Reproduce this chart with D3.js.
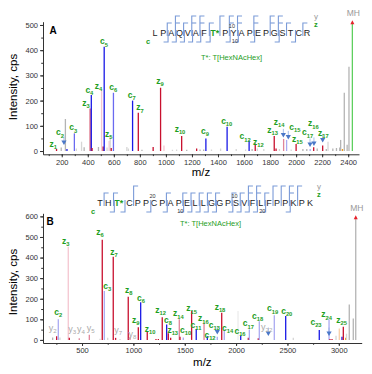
<!DOCTYPE html>
<html>
<head>
<meta charset="utf-8">
<script src="https://cdn.jsdelivr.net/npm/d3@7"></script>
<style>
  body { margin: 0; background: #fff; }
  text { font-family: Arial, 'Liberation Sans', sans-serif; }
</style>
</head>
<body>
<div id="chart-area"></div>
<script>
// ---- Panel A data: [m/z, intensity, kind]
const peaksA = [
  [160, 8, 'z'], [196, 14, 'g'], [228, 127, 'g'], [240, 8, 'c'], [297, 70, 'cm'],
  [312, 10, 'gl'], [352, 37, 'gl'], [372, 15, 'g'], [418, 169, 'zm'], [427, 222, 'c'],
  [433, 12, 'z'], [482, 16, 'g'], [506, 242, 'zp'], [518, 18, 'z'], [526, 414, 'c'],
  [548, 14, 'gl'], [564, 40, 'zp'], [572, 62, 'gl'], [580, 12, 'z'], [597, 231, 'cm'],
  [700, 16, 'gl'], [712, 10, 'gl'], [744, 200, 'c'], [788, 152, 'z'], [816, 5, 'g'],
  [902, 16, 'z'], [959, 251, 'z'], [985, 22, 'zp'], [1050, 5, 'gl'], [1082, 6, 'gl'],
  [1121, 60, 'z'], [1160, 5, 'g'], [1236, 10, 'z'], [1262, 6, 'g'], [1290, 6, 'g'],
  [1307, 50, 'c'], [1350, 6, 'gl'], [1420, 10, 'gl'], [1470, 96, 'c'], [1540, 8, 'gl'],
  [1612, 6, 'gl'], [1639, 41, 'c'], [1662, 8, 'g'], [1686, 30, 'z'], [1702, 10, 'gl'],
  [1752, 8, 'gl'], [1832, 60, 'z'], [1846, 10, 'z'], [1872, 8, 'gl'], [1904, 48, 'zl'],
  [1927, 44, 'cl'], [1962, 6, 'gl'], [2000, 28, 'z'], [2052, 8, 'g'], [2082, 8, 'g'],
  [2108, 8, 'cl'], [2135, 15, 'z'], [2162, 10, 'g'], [2204, 22, 'z'], [2232, 8, 'g'],
  [2245, 37, 'gl'], [2282, 10, 'g'], [2310, 12, 'g'], [2335, 14, 'g'], [2342, 44, 'g'],
  [2356, 8, 'o'], [2370, 231, 'g'], [2392, 25, 'g'], [2406, 334, 'g'], [2432, 511, 'mh']
];
// [ion, number, m/z, intensity] of label centre
const labelsA = [
  ['z', '1', 135, 24], ['c', '2', 187, 70], ['c', '3', 289, 90], ['z', '3', 386, 187],
  ['c', '4', 412, 239], ['z', '4', 483, 253], ['c', '5', 525, 431], ['z', '5', 560, 63],
  ['c', '6', 596, 249], ['c', '7', 737, 218], ['z', '7', 801, 169], ['z', '9', 955, 275],
  ['z', '10', 1108, 83], ['c', '9', 1300, 77], ['c', '10', 1467, 114], ['c', '12', 1608, 54],
  ['z', '12', 1710, 33], ['z', '13', 1820, 81], ['z', '14', 1869, 110], ['c', '15', 1991, 92],
  ['z', '15', 2009, 44], ['c', '17', 2089, 70], ['z', '16', 2132, 106], ['z', '17', 2209, 67]
];
const arrowsA = [[217, 30], [1902, 60], [1940, 52], [2107, 22], [2137, 26], [2204, 40]];
const seqA = ['L', 'P', 'A', 'Q', 'V', 'A', 'F', 'T*', 'P', 'Y', 'A', 'P', 'E', 'P', 'G', 'S', 'T', 'C', 'R'];
const cIonsA = [2, 3, 4, 5, 6, 7, 9, 10, 12, 15, 17];
const zIonsA = [1, 3, 4, 5, 7, 9, 10, 12, 13, 14, 15, 16, 17];
const yIonsA = [4, 5, 7, 9, 10, 11, 13, 14, 16];

// ---- Panel B data
const peaksB = [
  [214, 12, 'g'], [253, 18, 'z'], [269, 100, 'cl'], [285, 12, 'gl'], [366, 452, 'zp'],
  [376, 10, 'z'], [473, 8, 'zl'], [571, 25, 'zl'], [675, 6, 'gl'], [697, 487, 'z'],
  [717, 237, 'cl'], [750, 10, 'gl'], [804, 404, 'z'], [827, 10, 'z'], [870, 5, 'gl'],
  [950, 210, 'z'], [967, 15, 'zl'], [1048, 62, 'z'], [1071, 183, 'c'], [1135, 38, 'z'],
  [1220, 5, 'z'], [1243, 5, 'z'], [1281, 110, 'z'], [1324, 75, 'c'], [1340, 32, 'z'],
  [1363, 10, 'z'], [1447, 100, 'zl'], [1454, 15, 'z'], [1486, 12, 'cl'], [1567, 140, 'z'],
  [1612, 53, 'c'], [1688, 83, 'zl'], [1720, 18, 'c'], [1817, 15, 'cl'], [1860, 132, 'z'],
  [1885, 51, 'cl'], [2019, 140, 'gf'], [2045, 22, 'c'], [2119, 10, 'z'], [2129, 51, 'cl'],
  [2216, 8, 'z'], [2226, 91, 'cl'], [2372, 120, 'cl'], [2483, 116, 'c'], [2557, 10, 'gl'],
  [2810, 48, 'c'], [2905, 100, 'cl'], [2914, 5, 'z'], [2934, 5, 'z'], [2973, 20, 'gl'],
  [3005, 55, 'op'], [3031, 15, 'c'], [3044, 64, 'z'], [3067, 10, 'o'], [3075, 30, 'gl'],
  [3102, 172, 'g'], [3141, 104, 'g'], [3165, 596, 'g']
];
const labelsB = [
  ['c', '2', 269, 132], ['z', '3', 341, 475], ['z', '6', 675, 520], ['z', '7', 811, 423],
  ['c', '3', 746, 256], ['z', '8', 954, 237], ['c', '6', 1074, 201], ['z', '9', 1022, 91],
  ['z', '10', 1162, 48], ['z', '12', 1266, 140], ['c', '8', 1336, 93], ['z', '13', 1383, 42],
  ['z', '14', 1437, 124], ['c', '10', 1509, 43], ['z', '15', 1567, 148], ['c', '11', 1610, 70],
  ['z', '16', 1681, 100], ['c', '12', 1746, 18], ['c', '13', 1788, 70], ['z', '18', 1843, 156],
  ['c', '14', 1918, 54], ['c', '16', 2038, 38], ['c', '17', 2119, 75], ['c', '18', 2210, 111],
  ['c', '19', 2356, 148], ['c', '20', 2493, 135], ['c', '23', 2778, 83], ['z', '24', 2882, 119],
  ['z', '25', 3028, 91]
];
const yLabelsB = [
  ['y', '2', 214, 54], ['y', '3', 405, 48], ['y', '4', 490, 48], ['y', '5', 584, 54],
  ['y', '7', 853, 43], ['y', '8', 990, 23], ['y', '22', 2298, 59]
];
const arrowsB = [[1817, 33], [2314, 26], [2905, 26]];
const seqB = ['T', 'H', 'T*', 'C', 'P', 'P', 'C', 'P', 'A', 'P', 'E', 'L', 'L', 'G', 'G', 'P', 'S', 'V', 'F', 'L', 'F', 'P', 'P', 'K', 'P', 'K'];
const cIonsB = [2, 3, 6, 8, 10, 11, 12, 13, 14, 16, 17, 18, 19, 20, 23];
const zIonsB = [3, 6, 7, 8, 9, 10, 12, 13, 14, 15, 16, 18, 24, 25];
const yIonsB = [2, 3, 4, 5, 7, 8, 22];

const colors = {
  c: '#1a1ae6', cm: '#6a6af0', cl: '#aaaaf2',
  z: '#c8102e', zm: '#d4506a', zl: '#e0849a', zp: '#f5c6d0',
  g: '#b4b4b4', gl: '#d6d6d6', gf: '#ececec',
  o: '#f39c12', op: '#f7cfa8', mh: '#5fcf5f'
};
const green = '#1e9e1e';
const markBlue = '#7b9bd8';

let svg = d3.select('#chart-area').append('svg')
  .attr('width', 372).attr('height', 374);

function drawPanel(p) {
  let x = d3.scaleLinear().domain(p.xDomain).range(p.xRange);
  let y = d3.scaleLinear().domain(p.yDomain).range(p.yRange);
  let g = svg.append('g');

  // axes
  g.append('g').attr('transform', `translate(0,${p.yRange[0]})`)
    .call(d3.axisBottom(x).tickValues(p.xTicks).tickFormat(d3.format('d'))
      .tickSize(3).tickSizeOuter(0).tickPadding(2));
  g.append('g').attr('transform', `translate(0,${p.yRange[0]})`)
    .call(d3.axisBottom(x).tickValues(p.xMinor).tickSize(1.8).tickSizeOuter(0).tickFormat(''))
    .select('.domain').remove();
  g.append('g').attr('transform', `translate(${p.xRange[0]},0)`)
    .call(d3.axisLeft(y).tickValues(p.yTicks).tickFormat(d3.format('d'))
      .tickSize(3).tickSizeOuter(0).tickPadding(2));
  g.append('g').attr('transform', `translate(${p.xRange[0]},0)`)
    .call(d3.axisLeft(y).tickValues(p.yMinor).tickSize(1.8).tickSizeOuter(0).tickFormat(''))
    .select('.domain').remove();
  g.selectAll('.domain, .tick line').attr('stroke', '#333');
  g.selectAll('.tick text').attr('font-size', 7.5).attr('fill', '#333')
    .style('font-family', "Arial, 'Liberation Sans', sans-serif");

  // peaks
  g.selectAll('.peak').data(p.peaks).enter().append('line')
    .attr('x1', d => x(d[0])).attr('x2', d => x(d[0]))
    .attr('y1', y(0)).attr('y2', d => y(d[1]))
    .attr('stroke', d => colors[d[2]]).attr('stroke-width', 1.3);

  // precursor tip
  let mh = p.peaks[p.peaks.length - 1];
  g.append('path')
    .attr('d', `M${x(mh[0]) - 2},${y(mh[1]) + 2}L${x(mh[0]) + 2},${y(mh[1]) + 2}L${x(mh[0])},${y(mh[1]) - 2}Z`)
    .attr('fill', '#e8202a');
  g.append('text').attr('x', x(mh[0]) + 1).attr('y', y(mh[1]) - 6)
    .attr('text-anchor', 'middle').attr('font-size', 8.5).attr('fill', '#999').text('MH');

  // arrows
  p.arrows.forEach(a => {
    let ax = x(a[0]), ay = y(a[1]);
    g.append('line').attr('x1', ax).attr('x2', ax).attr('y1', ay - 7).attr('y2', ay - 2)
      .attr('stroke', '#8fb0e6').attr('stroke-width', 0.8);
    g.append('path').attr('d', `M${ax - 2.6},${ay - 3}L${ax + 2.6},${ay - 3}L${ax},${ay + 1.5}Z`)
      .attr('fill', '#4b78c8');
  });

  // fragment labels
  function addLabel(d, fill, bold, size) {
    let t = g.append('text').attr('x', x(d[2])).attr('y', y(d[3]) + 2)
      .attr('text-anchor', 'middle').attr('fill', fill)
      .attr('font-weight', bold ? 'bold' : 'normal').attr('font-size', size);
    t.append('tspan').text(d[0]);
    t.append('tspan').attr('dy', 2.2).attr('font-size', size * 0.68).text(d[1]);
  }
  p.labels.forEach(d => addLabel(d, green, true, 8.5));
  (p.yLabels || []).forEach(d => addLabel(d, '#aaa', false, 9));

  // titles
  g.append('text').attr('x', p.tag[0]).attr('y', p.tag[1]).attr('text-anchor', 'middle')
    .attr('font-size', 10).attr('font-weight', 'bold').text(p.name);
  g.append('text').attr('transform', `translate(17,${p.yTitle}) rotate(-90)`)
    .attr('text-anchor', 'middle').attr('font-size', 11.5).text('Intensity, cps');
  g.append('text').attr('x', (p.xRange[0] + p.xRange[1]) / 2).attr('y', p.xTitle)
    .attr('text-anchor', 'middle').attr('font-size', 11.5).text('m/z');

  // sequence with cleavage marks
  let s = p.seq;
  let tIdx = s.indexOf('T*');
  let cx = i => p.seqX + i * p.step + (i > tIdx ? p.step * 0.6 : 0) + (i === tIdx ? p.step * 0.3 : 0);
  let ly = p.seqY;
  s.forEach((r, i) => {
    g.append('text').attr('x', cx(i)).attr('y', ly + 3.4).attr('text-anchor', 'middle')
      .attr('font-size', 9).attr('fill', r === 'T*' ? green : '#222')
      .attr('font-weight', r === 'T*' ? 'bold' : 'normal').text(r);
  });
  let n = s.length;
  let bx = k => (cx(k - 1) + cx(k)) / 2;  // boundary after residue k
  let marks = g.append('g').attr('fill', 'none').attr('stroke', markBlue).attr('stroke-width', 1.1);
  for (let k = 1; k < n; k++) {
    let hasY = p.yIons.includes(n - k), hasZ = p.zIons.includes(n - k);
    if (hasY || hasZ) {
      let top = hasY ? ly - 17 : ly - 10;
      marks.append('path').attr('d', `M${bx(k)},${ly + 3}V${top}h4.5`);
      if (hasY && hasZ) marks.append('path').attr('d', `M${bx(k)},${ly - 10}h4.5`);
    }
    if (p.cIons.includes(k)) {
      marks.append('path').attr('d', `M${bx(k) + 0.8},${ly - 3}V${ly + 9}h-4.5`);
    }
  }
  p.numbers.forEach(d => {
    g.append('text').attr('x', cx(d[0]) + (d[2] ? -1.5 : 1.5)).attr('y', d[2] ? ly - 5.5 : ly + 9.5)
      .attr('text-anchor', 'middle').attr('font-size', 5.5).attr('fill', '#333').text(d[1]);
  });
  g.append('text').attr('x', p.seqX - 7).attr('y', ly + 11).attr('text-anchor', 'middle')
    .attr('font-size', 7.5).attr('font-weight', 'bold').attr('fill', green).text('c');
  let ex = cx(n - 1) + 9;
  g.append('text').attr('x', ex).attr('y', ly - 14).attr('text-anchor', 'middle')
    .attr('font-size', 8).attr('fill', '#999').text('y');
  g.append('text').attr('x', ex).attr('y', ly - 6).attr('text-anchor', 'middle')
    .attr('font-size', 7.5).attr('font-weight', 'bold').attr('fill', green).text('z');
  g.append('text').attr('x', p.note[0]).attr('y', p.note[1]).attr('font-size', 7.5)
    .attr('fill', green).text('T*: T[HexNAcHex]');
}

drawPanel({
  name: 'A', tag: [53, 34], yTitle: 87, xTitle: 176,
  peaks: peaksA, labels: labelsA, arrows: arrowsA,
  xDomain: [56, 2483], xRange: [43, 359], yDomain: [-13, 513], yRange: [154.3, 21.7],
  xTicks: d3.range(200, 2401, 200), xMinor: d3.range(100, 2500, 100),
  yTicks: d3.range(0, 501, 100), yMinor: d3.range(0, 501, 50),
  seq: seqA, seqX: 155, seqY: 33, step: 8.17,
  cIons: cIonsA, zIons: zIonsA, yIons: yIonsA,
  numbers: [[9, '10', true], [9, '10', false]], note: [201, 60]
});

drawPanel({
  name: 'B', tag: [50, 225], yTitle: 282, xTitle: 366,
  peaks: peaksB, labels: labelsB, yLabels: yLabelsB, arrows: arrowsB,
  xDomain: [120, 3223], xRange: [43, 361.7], yDomain: [-15, 615], yRange: [343, 213.3],
  xTicks: d3.range(500, 3001, 500), xMinor: d3.range(250, 3223, 250),
  yTicks: d3.range(0, 601, 100), yMinor: d3.range(0, 601, 50),
  seq: seqB, seqX: 100, seqY: 203, step: 8.2,
  cIons: cIonsB, zIons: zIonsB, yIons: yIonsB,
  numbers: [[6, '20', true], [16, '10', true], [9, '10', false], [19, '20', false]], note: [180, 226]
});
</script>
</body>
</html>
